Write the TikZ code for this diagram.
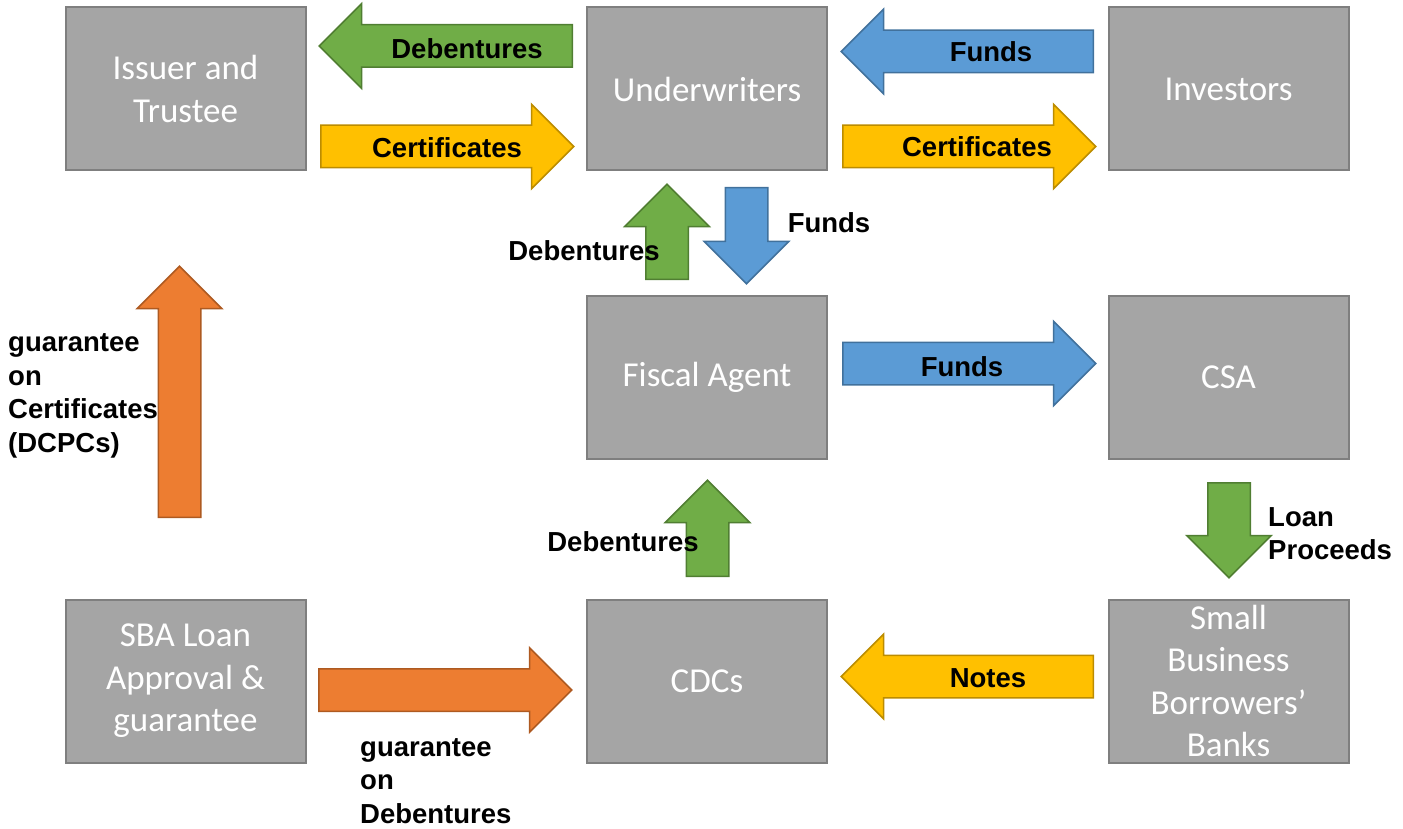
\documentclass[tikz,border=0pt]{standalone}
\usepackage{fontspec}
\setmainfont{Carlito}
\newfontfamily\lblfont{Liberation Sans}
\usetikzlibrary{shapes.arrows}
\definecolor{boxfill}{HTML}{A5A5A5}
\definecolor{boxline}{HTML}{7F7F7F}
\definecolor{grfill}{HTML}{70AD47}
\definecolor{grline}{HTML}{507E32}
\definecolor{yefill}{HTML}{FFC000}
\definecolor{yeline}{HTML}{BC8C00}
\definecolor{blfill}{HTML}{5B9BD5}
\definecolor{blline}{HTML}{41719C}
\definecolor{orfill}{HTML}{ED7D31}
\definecolor{orline}{HTML}{AE5A21}
\tikzset{
  box/.style={draw=boxline,fill=boxfill,line width=2pt,minimum width=240pt,minimum height=163pt,
    align=center,text=white,font=\fontsize{35}{42.5}\selectfont},
  blockarr/.style={single arrow,anchor=tail,line width=1.5pt,minimum width=83pt,
    single arrow head extend=21pt,inner xsep=0pt,inner ysep=20.5pt},
  green/.style={blockarr,draw=grline,fill=grfill},
  yellow/.style={blockarr,draw=yeline,fill=yefill},
  blue/.style={blockarr,draw=blline,fill=blfill},
  orange/.style={blockarr,draw=orline,fill=orfill},
  lbl/.style={inner sep=0pt,font=\lblfont\bfseries\fontsize{27.5}{33.5}\selectfont}
}
\begin{document}
\begin{tikzpicture}[x=1pt,y=-1pt]
  \useasboundingbox (0,0) rectangle (1403,829);
  % boxes
  \node[box] (iss) at (185.5,89) {Issuer and\\Trustee};
  \node[box] (und) at (707,89) {Underwriters};
  \node[box] (inv) at (1228.5,89) {Investors};
  \node[box] (fis) at (707,377.5) {Fiscal Agent};
  \node[box] (csa) at (1228.5,377.5) {CSA};
  \node[box] (sba) at (185.5,681) {SBA Loan\\Approval \&\\guarantee};
  \node[box] (cdc) at (707,681) {CDCs};
  \node[box] (bnk) at (1228.5,681) {Small\\Business\\Borrowers’\\Banks};
  % block arrows (placed by their tails)
  \node[green,minimum height=253pt,rotate=180] (a1) at (573,46) {};
  \node[yellow,minimum height=253pt] (a2) at (320,146.5) {};
  \node[blue,minimum height=252pt,rotate=180] (a3) at (1094,51.5) {};
  \node[yellow,minimum height=253pt] (a4) at (842,146.5) {};
  \node[green,minimum height=95pt,rotate=90] (a5) at (667,280) {};
  \node[blue,minimum height=96pt,rotate=-90] (a6) at (746.5,187) {};
  \node[orange,minimum height=251pt,rotate=90] (a7) at (179.5,518) {};
  \node[blue,minimum height=253pt] (a8) at (842,363.5) {};
  \node[green,minimum height=96pt,rotate=90] (a9) at (707.5,577) {};
  \node[green,minimum height=95pt,rotate=-90] (a10) at (1229,482) {};
  \node[orange,minimum height=253pt] (a11) at (318,690) {};
  \node[yellow,minimum height=252pt,rotate=180] (a12) at (1094,676.5) {};
  % labels
  \node[lbl] (l1) at (467,49) {Debentures};
  \node[lbl] (l2) at (447,148) {Certificates};
  \node[lbl] (l3) at (991,52) {Funds};
  \node[lbl] (l4) at (977,147) {Certificates};
  \node[lbl] (l5) at (584,251) {Debentures};
  \node[lbl] (l6) at (829,223) {Funds};
  \node[lbl,anchor=west,align=left] (l7) at (8,396) {guarantee\\on\\Certificates\\(DCPCs)};
  \node[lbl] (l8) at (962,367) {Funds};
  \node[lbl] (l9) at (623,542) {Debentures};
  \node[lbl,anchor=west,align=left] (l10) at (1268,533.5) {Loan\\Proceeds};
  \node[lbl,anchor=west,align=left] (l11) at (360,781) {guarantee\\on\\Debentures};
  \node[lbl] (l12) at (988,678) {Notes};
\end{tikzpicture}
\end{document}
